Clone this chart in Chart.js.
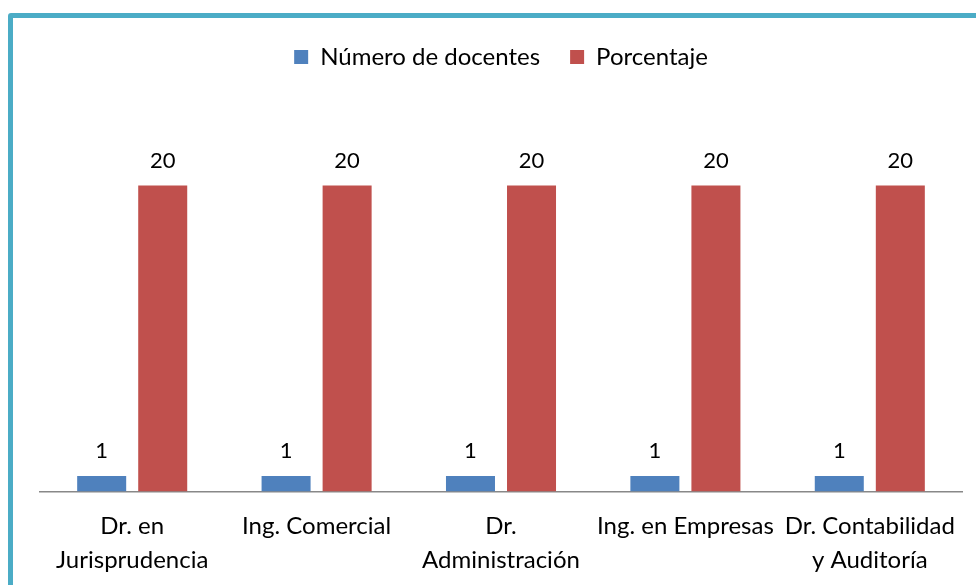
<!DOCTYPE html>
<html>
<head>
<meta charset="utf-8">
<script src="https://cdn.jsdelivr.net/npm/chart.js@4"></script>
<style>
  body { margin: 0; background: #fff; overflow: hidden; }
  #wrap { position: relative; width: 976px; height: 585px; }
  #frame { position: absolute; left: 8px; top: 13px; width: 1000px; height: 620px;
           border: 5px solid #4BACC6; border-radius: 3px; box-sizing: border-box; }
  canvas { position: absolute; left: 0; top: 0; }
</style>
</head>
<body>
<div id="wrap">
  <canvas id="chart" width="976" height="585"></canvas>
  <div id="frame"></div>
</div>
<script>
const categories = [
  ["Dr. en", "Jurisprudencia"],
  "Ing. Comercial",
  ["Dr.", "Administración"],
  "Ing. en Empresas",
  ["Dr. Contabilidad", "y Auditoría"]
];
const docentes = [1, 1, 1, 1, 1];
const porcentaje = [20, 20, 20, 20, 20];
const seriesNames = ["Número de docentes", "Porcentaje"];

const fontFamily = "Lato, 'Open Sans', sans-serif";

// draws the value above each bar
const valueLabels = {
  id: "valueLabels",
  afterDatasetsDraw(chart) {
    const ctx = chart.ctx;
    ctx.save();
    ctx.font = "22px " + fontFamily;
    ctx.fillStyle = "#000";
    ctx.textAlign = "center";
    ctx.textBaseline = "middle";
    chart.data.datasets.forEach((ds, i) => {
      chart.getDatasetMeta(i).data.forEach((bar, j) => {
        ctx.fillText(ds.data[j], bar.x, bar.y - 25);
      });
    });
    ctx.restore();
  }
};

const legendMargin = {
  id: "legendMargin",
  beforeInit(chart) {
    const fit = chart.legend.fit;
    chart.legend.fit = function () {
      fit.bind(chart.legend)();
      this.height += 30;
    };
  }
};

new Chart(document.getElementById("chart"), {
  type: "bar",
  data: {
    labels: categories,
    datasets: [
      { label: seriesNames[0], data: docentes, backgroundColor: "#4F81BD",
        categoryPercentage: 0.662, barPercentage: 0.803 },
      { label: seriesNames[1], data: porcentaje, backgroundColor: "#C0504D",
        categoryPercentage: 0.662, barPercentage: 0.803 }
    ]
  },
  options: {
    responsive: false,
    animation: false,
    layout: { padding: { left: 40, right: 14, top: 15, bottom: -10 } },
    plugins: {
      legend: {
        position: "top",
        labels: { font: { size: 24, family: fontFamily }, color: "#000",
                  boxWidth: 14, boxHeight: 14, padding: 30 }
      },
      tooltip: { enabled: false }
    },
    scales: {
      x: {
        grid: { display: false, drawTicks: false },
        border: { display: true, color: "#888", width: 1.5 },
        ticks: { font: { size: 24, family: fontFamily, lineHeight: 1.45 },
                 color: "#000", padding: 17, maxRotation: 0, autoSkip: false }
      },
      y: { display: false, min: 0, max: 25 }
    }
  },
  plugins: [valueLabels, legendMargin]
});
</script>
</body>
</html>
